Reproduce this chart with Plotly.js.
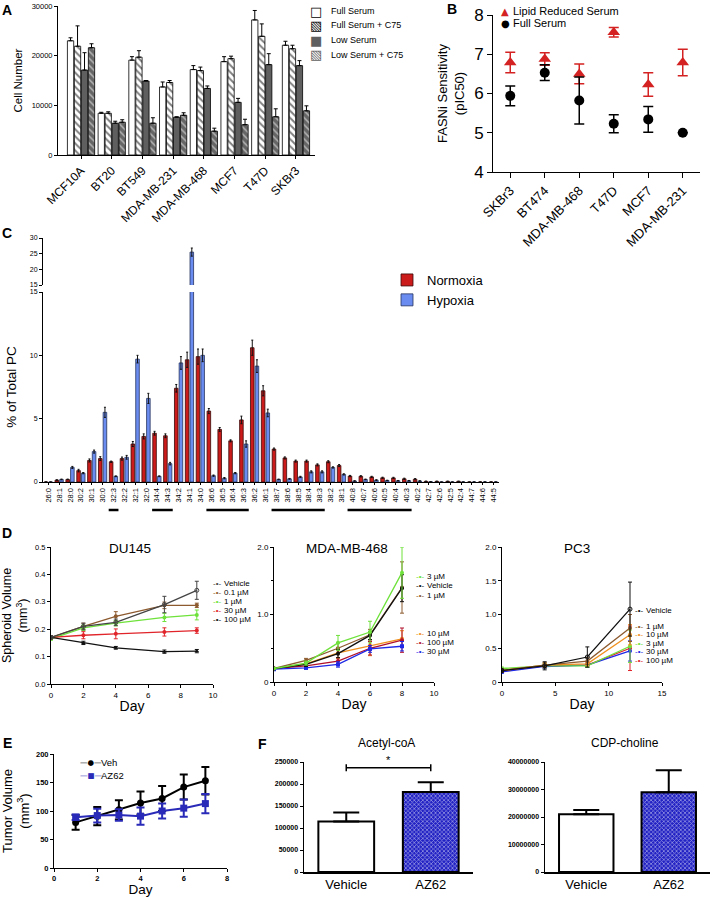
<!DOCTYPE html>
<html><head><meta charset="utf-8">
<script src="https://cdn.plot.ly/plotly-3.0.1.min.js"></script>
<style>html,body{margin:0;padding:0;background:#fff}#chart{width:713px;height:897px}</style>
</head><body><div id="chart"></div>
<script>
// ---------- Panel A ----------
const aCells = ["MCF10A","BT20","BT549","MDA-MB-231","MDA-MB-468","MCF7","T47D","SKBr3"];
const aFull     = [23000, 8400, 19100, 13700, 17200, 18800, 27200, 22100];
const aFullErr  = [600, 200, 700, 1000, 800, 1000, 1900, 800];
const aFullC75  = [21900, 8400, 19700, 14600, 17000, 19400, 23900, 21400];
const aFullC75Err = [4100, 300, 1300, 400, 700, 500, 2500, 700];
const aLow      = [17100, 6400, 14900, 7600, 13400, 10600, 18200, 18000];
const aLowErr   = [3500, 400, 100, 100, 500, 800, 2200, 1000];
const aLowC75   = [21600, 6600, 6400, 8000, 4800, 6100, 7700, 8900];
const aLowC75Err = [800, 500, 1100, 500, 600, 1100, 1600, 1000];
const aSeriesNames = ["Full Serum","Full Serum + C75","Low Serum","Low Serum + C75"];
const aTicks = [0, 10000, 20000, 30000];

// ---------- Panel B ----------
const bCells = ["SKBr3","BT474","MDA-MB-468","T47D","MCF7","MDA-MB-231"];
const bLipid    = [6.79, 6.88, 6.50, 7.56, 6.23, 6.79];
const bLipidErr = [0.26, 0.16, 0.25, 0.12, 0.30, 0.34];
const bFull     = [5.94, 6.53, 5.82, 5.23, 5.34, 5.00];
const bFullErr  = [0.25, 0.20, 0.60, 0.23, 0.33, 0];
const bNames = ["Lipid Reduced Serum","Full Serum"];

// ---------- Panel C ----------
const cSpecies = ["26:0","28:1","28:0","30:2","30:1","30:0","32:3","32:2","32:1","32:0",
  "34:4","34:3","34:2","34:1","34:0","36:6","36:5","36:4","36:3","36:2","36:1",
  "38:7","38:6","38:5","38:4","38:3","38:2","38:1","40:8","40:7","40:6","40:5","40:4","40:3","40:2",
  "42:7","42:6","42:5","42:4","44:7","44:6","44:5"];
const cNormoxia = [0,0.15,0.2,0.9,1.7,1.85,1.6,1.85,3.0,3.6,3.85,3.65,7.4,9.65,9.9,5.6,4.15,3.25,4.9,10.6,7.2,
  2.6,1.9,1.65,1.65,1.35,1.6,1.3,0.47,0.45,0.4,0.33,0.32,0.25,0.22,0.05,0.05,0.05,0.05,0,0,0];
const cNormoxiaErr = [0,0.03,0.03,0.1,0.12,0.15,0.05,0.12,0.2,0.2,0.15,0.15,0.3,0.6,0.6,0.2,0.15,0.08,0.3,0.6,0.4,
  0.08,0.08,0.08,0.08,0.08,0.08,0.08,0.05,0.05,0.05,0.05,0.05,0.05,0.05,0.02,0.02,0.02,0.02,0,0,0];
const cHypoxia = [0,0.2,1.15,0.7,2.4,5.5,0.45,1.95,9.7,6.6,0.45,1.45,9.4,25.5,10.0,0.5,0.3,0.7,3.0,9.15,5.45,
  0.2,0.25,0.4,0.8,0.8,1.15,0.6,0.08,0.2,0.15,0.12,0.1,0.1,0.08,0.02,0,0,0,0,0,0];
const cHypoxiaErr = [0,0.03,0.08,0.05,0.12,0.4,0.03,0.15,0.3,0.4,0.03,0.1,0.5,1.3,0.5,0.05,0.05,0.05,0.25,0.5,0.3,
  0.03,0.03,0.05,0.08,0.08,0.05,0.05,0.02,0.03,0.03,0.02,0.02,0.02,0.02,0.01,0,0,0,0,0,0];
const cGroups = [["32:3","32:3"],["34:4","34:3"],["36:6","36:3"],["38:7","38:3"],["40:8","40:3"]];

// ---------- Panel D ----------
const duDays = [0,2,4,7,9];
const duVeh = [0.17,0.21,0.225,0.29,0.342],  duVehErr = [0.005,0.012,0.012,0.03,0.033];
const du01  = [0.17,0.21,0.247,0.287,0.287], du01Err  = [0.005,0.012,0.017,0.012,0.008];
const du1   = [0.165,0.205,0.222,0.243,0.252], du1Err = [0.005,0.01,0.01,0.015,0.018];
const du30  = [0.17,0.178,0.183,0.19,0.195], du30Err  = [0.005,0.013,0.018,0.015,0.01];
const du100 = [0.17,0.15,0.132,0.118,0.12],  du100Err = [0.005,0.006,0.005,0.006,0.006];

const mbDays = [0,2,4,6,8];
const mb3   = [0.2,0.28,0.58,0.74,1.62], mb3Err   = [0.01,0.03,0.11,0.16,0.38];
const mbVeh = [0.2,0.26,0.42,0.69,1.39], mbVehErr = [0.01,0.03,0.06,0.06,0.2];
const mb1   = [0.2,0.32,0.5,0.7,1.4],    mb1Err   = [0.01,0.03,0.08,0.08,0.38];
const mb10  = [0.2,0.27,0.43,0.54,0.64], mb10Err  = [0.01,0.03,0.08,0.15,0.12];
const mb100 = [0.2,0.24,0.31,0.5,0.62],  mb100Err = [0.01,0.03,0.05,0.1,0.18];
const mb30  = [0.19,0.21,0.26,0.49,0.53], mb30Err = [0.01,0.02,0.04,0.05,0.07];

const pcDays = [0,4,8,12];
const pcVeh = [0.17,0.24,0.37,1.08], pcVehErr = [0.02,0.06,0.15,0.4];
const pc1   = [0.17,0.25,0.31,0.8],  pc1Err   = [0.02,0.04,0.05,0.2];
const pc10  = [0.17,0.25,0.27,0.7],  pc10Err  = [0.02,0.03,0.03,0.15];
const pc3   = [0.2,0.24,0.24,0.53],  pc3Err   = [0.02,0.03,0.02,0.24];
const pc30  = [0.15,0.23,0.25,0.46], pc30Err  = [0.02,0.03,0.03,0.15];
const pc100 = [0.16,0.24,0.25,0.5],  pc100Err = [0.02,0.03,0.03,0.33];

// ---------- Panel E ----------
const eDays = [1,2,3,4,5,6,7];
const eVeh = [80,91,102,114,122,142,153], eVehErr = [13,16,17,20,22,22,24];
const eAZ  = [89,92,93,91,100,105,113],   eAZErr  = [5,12,10,15,13,15,17];

// ---------- Panel F ----------
const fGroups = ["Vehicle","AZ62"];
const fAcetyl = [115000,182000], fAcetylErr = [20000,22000];
const fCDP = [21000000,29000000], fCDPErr = [1500000,8000000];
const fSig = [0, 1, 237000];   // bracket from group 0 to group 1 at this value

// ---------- helpers ----------
const W = 713, H = 897;
const FONT = 'Liberation Sans, Arial, sans-serif';
const dx = (a,b) => [a/W, b/W];
const dy = (t,b) => [1-b/H, 1-t/H];
const ax = o => Object.assign({showline:true, linecolor:'#000', linewidth:1, ticks:'outside', ticklen:3,
  tickwidth:1, tickcolor:'#000', showgrid:false, zeroline:false, fixedrange:true}, o);
const zeros = n => new Array(n).fill(0);
const ann = (text, x, y, o) => Object.assign({text, x:x/W, y:1-y/H, xref:'paper', yref:'paper',
  showarrow:false, xanchor:'left', yanchor:'middle', font:{size:9, color:'#000', family:FONT}}, o||{});

const COL = {green:'#6EE23A', brown:'#8C5A2E', orange:'#F0901E', red:'#E0242A', darkred:'#B0102A',
  blue:'#1E28E6', black:'#111', gray:'#444'};

const traces = [];

// A bars
const aStyle = [
  {color:'#fff', pattern:{shape:''}},
  {color:'#fff', pattern:{fillmode:'overlay', shape:'\\', fgcolor:'#000', size:5, solidity:0.4}},
  {color:'#5f5f5f', pattern:{shape:''}},
  {color:'#666', pattern:{fillmode:'overlay', shape:'\\', fgcolor:'#fff', size:5, solidity:0.3}}
];
[[aFull,aFullErr],[aFullC75,aFullC75Err],[aLow,aLowErr],[aLowC75,aLowC75Err]].forEach((s,i)=>{
  traces.push({type:'bar', x:aCells, y:s[0], name:aSeriesNames[i], xaxis:'x', yaxis:'y', showlegend:false,
    marker:{color:aStyle[i].color, pattern:aStyle[i].pattern, line:{color:'#000', width:0.8}},
    error_y:{type:'data', symmetric:false, array:s[1], arrayminus:zeros(s[1].length), color:'#000', thickness:1, width:2}});
});

// B points
traces.push({type:'scatter', mode:'markers', x:bCells, y:bLipid, name:bNames[0], xaxis:'x2', yaxis:'y2', showlegend:false,
  marker:{symbol:'triangle-up', size:11, color:'#D42222'},
  error_y:{type:'data', array:bLipidErr, color:'#D42222', thickness:1.5, width:5}});
traces.push({type:'scatter', mode:'markers', x:bCells, y:bFull, name:bNames[1], xaxis:'x2', yaxis:'y2', showlegend:false,
  marker:{symbol:'circle', size:10, color:'#000'},
  error_y:{type:'data', array:bFullErr, color:'#000', thickness:1.5, width:5}});

// C bars (lower and upper broken segments)
[['y3','x3',true],['y4','x4',false]].forEach(([ya,xa,leg])=>{
  traces.push({type:'bar', x:cSpecies, y:cNormoxia, name:'Normoxia', xaxis:xa, yaxis:ya, showlegend:leg, legendgroup:'n',
    width:0.33, offset:-0.39, marker:{color:'#CC1B1B', line:{color:'#3a0808', width:0.8}},
    error_y:{type:'data', array:cNormoxiaErr, color:'#111', thickness:1, width:1}});
  traces.push({type:'bar', x:cSpecies, y:cHypoxia, name:'Hypoxia', xaxis:xa, yaxis:ya, showlegend:leg, legendgroup:'h',
    width:0.33, offset:0.04, marker:{color:'#6A8CF0', line:{color:'#26335e', width:0.8}},
    error_y:{type:'data', array:cHypoxiaErr, color:'#111', thickness:1, width:1}});
});

// D lines
function line(x, y, err, color, name, xa, ya, sym){
  traces.push({type:'scatter', mode:'lines+markers', x, y, name, xaxis:xa, yaxis:ya, showlegend:false,
    line:{color, width:1.3}, marker:{color, size:4, symbol:sym||'circle'},
    error_y:{type:'data', array:err, color, thickness:1, width:2}});
}
line(duDays, du01, du01Err, COL.brown, '0.1 µM', 'x5','y5');
line(duDays, du1, du1Err, COL.green, '1 µM', 'x5','y5');
line(duDays, du30, du30Err, COL.red, '30 µM', 'x5','y5');
line(duDays, du100, du100Err, COL.black, '100 µM', 'x5','y5','triangle-up');
line(duDays, duVeh, duVehErr, COL.gray, 'Vehicle', 'x5','y5','circle-open');

line(mbDays, mb10, mb10Err, COL.orange, '10 µM', 'x6','y6');
line(mbDays, mb100, mb100Err, COL.darkred, '100 µM', 'x6','y6');
line(mbDays, mb30, mb30Err, COL.blue, '30 µM', 'x6','y6','square');
line(mbDays, mb1, mb1Err, COL.brown, '1 µM', 'x6','y6');
line(mbDays, mbVeh, mbVehErr, COL.black, 'Vehicle', 'x6','y6');
line(mbDays, mb3, mb3Err, COL.green, '3 µM', 'x6','y6');

line(pcDays, pc100, pc100Err, COL.red, '100 µM', 'x7','y7');
line(pcDays, pc30, pc30Err, COL.blue, '30 µM', 'x7','y7');
line(pcDays, pc3, pc3Err, COL.green, '3 µM', 'x7','y7');
line(pcDays, pc10, pc10Err, COL.orange, '10 µM', 'x7','y7');
line(pcDays, pc1, pc1Err, COL.brown, '1 µM', 'x7','y7');
line(pcDays, pcVeh, pcVehErr, COL.black, 'Vehicle', 'x7','y7','circle-open');

// E
traces.push({type:'scatter', mode:'lines+markers', x:eDays, y:eVeh, name:'Veh', xaxis:'x8', yaxis:'y8', showlegend:false,
  line:{color:'#000', width:2}, marker:{color:'#000', size:7, symbol:'circle'},
  error_y:{type:'data', array:eVehErr, color:'#000', thickness:2, width:4}});
traces.push({type:'scatter', mode:'lines+markers', x:eDays, y:eAZ, name:'AZ62', xaxis:'x8', yaxis:'y8', showlegend:false,
  line:{color:'#2A2AB8', width:2}, marker:{color:'#2A2AB8', size:7, symbol:'square'},
  error_y:{type:'data', array:eAZErr, color:'#2A2AB8', thickness:2, width:4}});

// F
const fMarker = {color:['#fff','#2222c4'],
  pattern:{fillmode:'overlay', shape:['','x'], fgcolor:'#000022', size:3, solidity:0.45},
  line:{color:'#000', width:2}};
traces.push({type:'bar', x:fGroups, y:fAcetyl, name:'Acetyl-coA', xaxis:'x9', yaxis:'y9', showlegend:false, width:0.66,
  marker:fMarker, error_y:{type:'data', symmetric:false, array:fAcetylErr, arrayminus:[0,0], color:'#000', thickness:2, width:13}});
traces.push({type:'bar', x:fGroups, y:fCDP, name:'CDP-choline', xaxis:'x10', yaxis:'y10', showlegend:false, width:0.66,
  marker:fMarker, error_y:{type:'data', symmetric:false, array:fCDPErr, arrayminus:[0,0], color:'#000', thickness:2, width:13}});

// ---------- layout ----------
const layout = {
  width:W, height:H, margin:{l:0,r:0,t:0,b:0}, paper_bgcolor:'#fff', plot_bgcolor:'rgba(0,0,0,0)',
  font:{family:FONT, color:'#000'}, barmode:'group', bargap:0.09, bargroupgap:0.1,
  showlegend:true,
  legend:{x:387/W, y:1-265/H, xanchor:'left', yanchor:'top', font:{size:13}, bgcolor:'rgba(0,0,0,0)', traceorder:'normal'},

  xaxis: ax({domain:dx(58,315), anchor:'y', type:'category', range:[-0.75,7.62], tickangle:-45, tickfont:{size:12}}),
  yaxis: ax({domain:dy(6,155), anchor:'x', range:[0,30000], tickvals:aTicks, tickformat:'d', tickfont:{size:7.5},
    title:{text:'Cell Number', font:{size:11.5}, standoff:6}}),

  xaxis2: ax({domain:dx(493,700), anchor:'y2', type:'category', range:[-0.5,5.5], tickangle:-45, tickfont:{size:13}, ticklen:5}),
  yaxis2: ax({domain:dy(15,172), anchor:'x2', range:[4,8], dtick:1, tickfont:{size:17}, ticklen:5,
    title:{text:'FASNi Sensitivity<br>(pIC50)', font:{size:13}, standoff:6}}),

  xaxis3: ax({domain:dx(43,499), anchor:'y3', type:'category', range:[-0.5,41.5], tickangle:-90, tickfont:{size:7.5}, ticklen:2}),
  yaxis3: ax({domain:dy(292,482), anchor:'x3', range:[0,15], tickvals:[0,5,10,15], tickfont:{size:7},
    title:{text:'% of Total PC', font:{size:13.5}, standoff:10}}),
  xaxis4: {domain:dx(43,499), anchor:'y4', type:'category', range:[-0.5,41.5], visible:false, fixedrange:true},
  yaxis4: ax({domain:dy(238,285), anchor:'x4', range:[15,30], tickvals:[15,20,25,30], tickfont:{size:7}}),

  xaxis5: ax({domain:dx(51,213), anchor:'y5', range:[0,10], dtick:2, tickfont:{size:8}, title:{text:'Day', font:{size:14}, standoff:2}}),
  yaxis5: ax({domain:dy(547,684), anchor:'x5', range:[0,0.5], dtick:0.1, tickformat:'.1f', tickfont:{size:7.5},
    title:{text:'Spheroid Volume<br>(mm<sup>3</sup>)', font:{size:12.5}, standoff:4}}),
  xaxis6: ax({domain:dx(274,434), anchor:'y6', range:[0,10], dtick:2, tickfont:{size:8}, title:{text:'Day', font:{size:14}, standoff:2}}),
  yaxis6: ax({domain:dy(547,682), anchor:'x6', range:[0,2], tickvals:[0,1,2], ticktext:['0','1.0','2.0'], tickfont:{size:8},
    minor:{dtick:0.5, ticklen:2, ticks:'outside', tickcolor:'#000'}}),
  xaxis7: ax({domain:dx(502,662), anchor:'y7', range:[0,15], dtick:5, tickfont:{size:8}, title:{text:'Day', font:{size:14}, standoff:2}}),
  yaxis7: ax({domain:dy(547,682), anchor:'x7', range:[0,2], tickvals:[0,0.5,1,1.5,2], ticktext:['0','0.5','1.0','1.5','2.0'], tickfont:{size:8}}),

  xaxis8: ax({domain:dx(54,227), anchor:'y8', range:[0,8], dtick:2, tickfont:{size:7.5, weight:'bold'}, title:{text:'Day', font:{size:13.5}, standoff:4}}),
  yaxis8: ax({domain:dy(754,868), anchor:'x8', range:[0,200], dtick:50, tickfont:{size:7.5, weight:'bold'},
    title:{text:'Tumor Volume<br>(mm<sup>3</sup>)', font:{size:13}, standoff:4}}),

  xaxis9: ax({domain:dx(304,473), anchor:'y9', type:'category', range:[-0.5,1.5], ticks:'', tickfont:{size:13}, linewidth:1.5}),
  yaxis9: ax({domain:dy(762,872), anchor:'x9', range:[0,250000], dtick:50000, tickformat:'d', tickfont:{size:7, weight:'bold'}, linewidth:1.5}),
  xaxis10: ax({domain:dx(545,710), anchor:'y10', type:'category', range:[-0.5,1.5], ticks:'', tickfont:{size:13}, linewidth:1.5}),
  yaxis10: ax({domain:dy(762,872), anchor:'x10', range:[0,40000000], dtick:10000000, tickformat:'d', tickfont:{size:7, weight:'bold'}, linewidth:1.5}),

  annotations:[], shapes:[]
};

const A = layout.annotations, S = layout.shapes;
// panel letters
[['A',7,10],['B',452,9],['C',7,233],['D',7,533],['E',7,743],['F',262,744]].forEach(([t,x,y])=>
  A.push(ann('<b>'+t+'</b>', x, y, {xanchor:'center', font:{size:14, family:FONT, color:'#000'}})));

// A legend
const aSw = ['□','▧','■','▧'], aSwCol = ['#000','#000','#5f5f5f','#5f5f5f'];
aSeriesNames.forEach((n,i)=>{
  const y = 11 + i*14.5;
  A.push(ann(aSw[i], 316, y, {xanchor:'center', font:{size:13, family:'DejaVu Sans', color:aSwCol[i]}}));
  A.push(ann(n, 329, y, {font:{size:9, family:FONT, color:'#000'}}));
});
// B legend
[['▲','#D42222'],['●','#000']].forEach(([g,c],i)=>{
  const y = 11 + i*12;
  A.push(ann(g, 505, y, {xanchor:'center', font:{size:10, family:'DejaVu Sans', color:c}}));
  A.push(ann(bNames[i], 511, y, {font:{size:11, family:FONT, color:'#000'}}));
});
// C group underlines
cGroups.forEach(([a,b])=>{
  S.push({type:'line', xref:'x3', yref:'paper', x0:cSpecies.indexOf(a)-0.45, x1:cSpecies.indexOf(b)+0.45,
    y0:1-510/H, y1:1-510/H, line:{color:'#000', width:2.5}});
});
// D titles
[['DU145',130],['MDA-MB-468',347],['PC3',577]].forEach(([t,x])=>A.push(ann(t, x, 548, {xanchor:'center', font:{size:13.5, family:FONT, color:'#000'}})));
// D legends
function dLegend(items, x, y0, step){
  items.forEach(([lab,c],i)=>{
    const y = y0 + i*step;
    A.push(ann('-•-', x, y, {xanchor:'left', font:{size:8, family:FONT, color:c}}));
    A.push(ann(lab, x+11, y, {font:{size:8, family:FONT, color:'#000'}}));
  });
}
dLegend([['Vehicle',COL.gray],['0.1 µM',COL.brown],['1 µM',COL.green],['30 µM',COL.red],['100 µM',COL.black]], 211, 583, 9.2);
dLegend([['3 µM',COL.green],['Vehicle',COL.black],['1 µM',COL.brown]], 414, 576, 9.5);
dLegend([['10 µM',COL.orange],['100 µM',COL.darkred],['30 µM',COL.blue]], 414, 633, 9.2);
dLegend([['Vehicle',COL.black]], 633, 610, 9);
dLegend([['1 µM',COL.brown],['10 µM',COL.orange],['3 µM',COL.green],['30 µM',COL.blue],['100 µM',COL.red]], 633, 626, 8.6);
// E legend
[['—●—','#000','Veh'],['—■—','#2A2AB8','AZ62']].forEach(([g,c,l],i)=>{
  const y = 762 + i*13;
  A.push(ann(g, 78, y, {font:{size:7.5, family:'DejaVu Sans', color:c}}));
  A.push(ann(l, 99, y, {font:{size:9.5, family:FONT, color:'#000'}}));
});
// F titles
A.push(ann('Acetyl-coA', 387, 743, {xanchor:'center', font:{size:12, family:FONT, color:'#000'}}));
A.push(ann('CDP-choline', 625, 743, {xanchor:'center', font:{size:12, family:FONT, color:'#000'}}));
// F significance bracket
S.push({type:'line', xref:'x9', yref:'y9', x0:fSig[0], x1:fSig[1], y0:fSig[2], y1:fSig[2], line:{color:'#000', width:1.5}});
S.push({type:'line', xref:'x9', yref:'y9', x0:fSig[0], x1:fSig[0], y0:fSig[2]-8000, y1:fSig[2]+8000, line:{color:'#000', width:1.5}});
S.push({type:'line', xref:'x9', yref:'y9', x0:fSig[1], x1:fSig[1], y0:fSig[2]-8000, y1:fSig[2]+8000, line:{color:'#000', width:1.5}});
A.push({text:'*', xref:'x9', yref:'y9', x:(fSig[0]+fSig[1])/2, y:fSig[2], yanchor:'bottom', showarrow:false, font:{size:11, family:FONT, color:'#000'}});

Plotly.newPlot('chart', traces, layout, {staticPlot:true, displayModeBar:false});
</script></body></html>
